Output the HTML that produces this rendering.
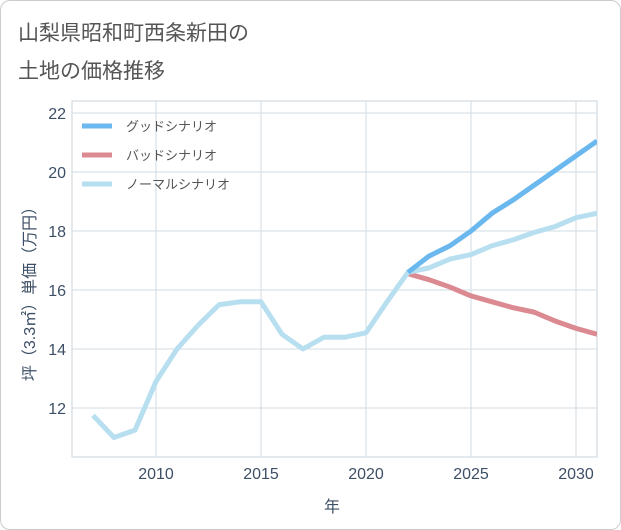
<!DOCTYPE html>
<html><head><meta charset="utf-8"><style>
body{margin:0;background:#fff;font-family:"Liberation Sans","Noto Sans CJK JP",sans-serif;}
#card{position:absolute;left:0;top:0;width:619px;height:528px;border:1px solid #ccc;border-radius:10px;background:#fff;}
</style></head><body>
<div id="card">
<svg id="chart" width="621" height="530" style="position:absolute;left:-1px;top:-1px">
<text x="18" y="40" font-size="21" fill="#555">山梨県昭和町西条新田の</text>
<text x="18" y="78" font-size="21" fill="#555">土地の価格推移</text>
<g id="grid"></g><g id="series"></g>
<text x="332" y="512" font-size="16" fill="#3d4f66" text-anchor="middle">年</text>
<text transform="translate(35,290) rotate(-90)" font-size="16" fill="#3d4f66" text-anchor="middle">坪（3.3㎡）単価（万円）</text>
<g>
<line x1="82" y1="126" x2="112" y2="126" stroke="#6bb8ef" stroke-width="5"/>
<text x="126" y="131" font-size="13" fill="#555">グッドシナリオ</text>
<line x1="82" y1="155" x2="112" y2="155" stroke="#dc8a92" stroke-width="5"/>
<text x="126" y="160" font-size="13" fill="#555">バッドシナリオ</text>
<line x1="82" y1="184" x2="112" y2="184" stroke="#b8dff0" stroke-width="5"/>
<text x="126" y="189" font-size="13" fill="#555">ノーマルシナリオ</text>
</g>
</svg></div>
<script>
const xTicks=[2010,2015,2020,2025,2030];
const yTicks=[12,14,16,18,20,22];
const normalYears=[2007,2008,2009,2010,2011,2012,2013,2014,2015,2016,2017,2018,2019,2020,2021,2022,2023,2024,2025,2026,2027,2028,2029,2030,2031];
const normalValues=[11.75,11.0,11.25,12.9,14.0,14.8,15.5,15.6,15.6,14.5,14.0,14.4,14.4,14.55,15.6,16.6,16.75,17.05,17.2,17.5,17.7,17.95,18.15,18.45,18.6];
const forecastYears=[2022,2023,2024,2025,2026,2027,2028,2029,2030,2031];
const goodValues=[16.6,17.15,17.5,18.0,18.6,19.05,19.55,20.05,20.55,21.05];
const badValues=[16.55,16.35,16.1,15.8,15.6,15.4,15.25,14.95,14.7,14.5];
const L=72,R=597,T=101,B=457;
const x=v=>156+(v-2010)*21;
const y=v=>113+(22-v)*29.5;
const NS="http://www.w3.org/2000/svg";
const grid=document.getElementById('grid'),ser=document.getElementById('series');
function mk(tag,attrs,parent){const e=document.createElementNS(NS,tag);for(const k in attrs)e.setAttribute(k,attrs[k]);parent.appendChild(e);return e;}
const frame=mk('rect',{x:L,y:T,width:R-L,height:B-T,fill:'none',stroke:'#c8d3de'},grid);


xTicks.forEach(t=>{
 const l=mk('line',{x1:x(t),x2:x(t),y1:T,y2:B,stroke:'#d0dbe6'},grid);
 
 
 const tx=mk('text',{x:x(t),y:B+22,'font-size':16,fill:'#3d4f66','text-anchor':'middle'},grid);
 tx.textContent=t;
 
 
});
yTicks.forEach(t=>{
 const l=mk('line',{x1:L,x2:R,y1:y(t),y2:y(t),stroke:'#d0dbe6'},grid);
 
 
 const tx=mk('text',{x:L-6,y:y(t)+6,'font-size':16,fill:'#3d4f66','text-anchor':'end'},grid);
 tx.textContent=t;
 
 
});
function line(xs,vs,color,name){
 const p=mk('polyline',{points:xs.map((d,i)=>x(d)+','+y(vs[i])).join(' '),fill:'none',stroke:color,'stroke-width':5,'stroke-linejoin':'round'},ser);
 
 
}
const cp=mk('clipPath',{id:'clip'},ser);mk('rect',{x:L,y:T,width:R-L,height:B-T},cp);
ser.setAttribute('clip-path','url(#clip)');
line(forecastYears,badValues,'#dc8a92','bad-scenario-line');
line(normalYears,normalValues,'#b8dff0','normal-scenario-line');
line(forecastYears,goodValues,'#6bb8ef','good-scenario-line');
</script>
</body></html>
